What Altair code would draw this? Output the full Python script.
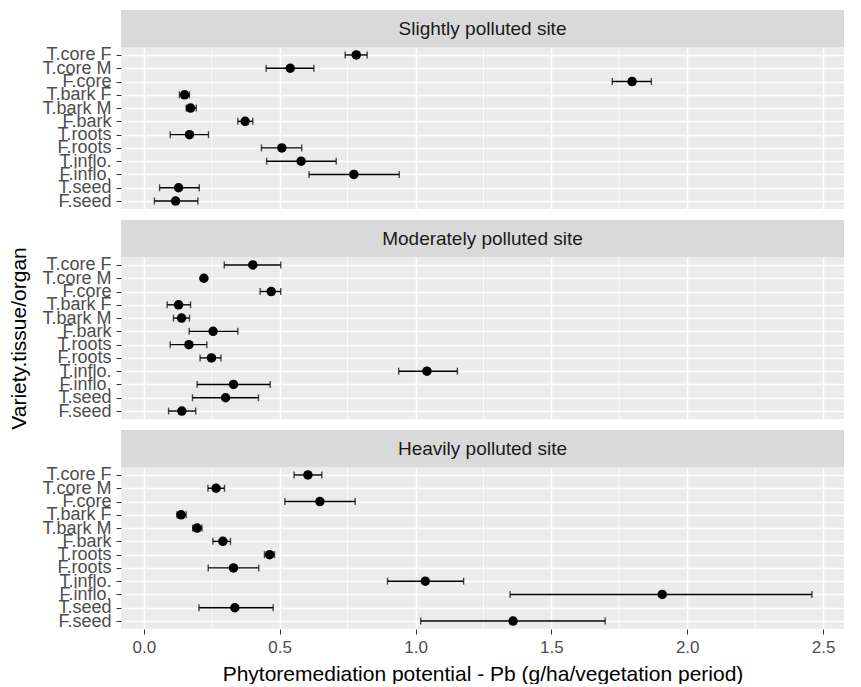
import altair as alt
import pandas as pd

categories = ["T.core F", "T.core M", "F.core", "T.bark F", "T.bark M", "F.bark",
              "T.roots", "F.roots", "T.inflo.", "F.inflo.", "T.seed", "F.seed"]
sites = ["Slightly polluted site", "Moderately polluted site", "Heavily polluted site"]

slight_mean = [0.782, 0.539, 1.797, 0.150, 0.172, 0.373, 0.168, 0.508, 0.579, 0.773, 0.128, 0.117]
slight_lo = [0.741, 0.450, 1.724, 0.131, 0.156, 0.346, 0.097, 0.433, 0.452, 0.608, 0.058, 0.039]
slight_hi = [0.822, 0.626, 1.868, 0.168, 0.193, 0.401, 0.238, 0.581, 0.708, 0.940, 0.204, 0.199]

moder_mean = [0.401, 0.221, 0.469, 0.128, 0.139, 0.255, 0.166, 0.249, 1.042, 0.330, 0.301, 0.140]
moder_lo = [0.296, 0.215, 0.428, 0.086, 0.109, 0.167, 0.097, 0.207, 0.938, 0.196, 0.179, 0.091]
moder_hi = [0.504, 0.227, 0.504, 0.172, 0.168, 0.346, 0.232, 0.284, 1.154, 0.465, 0.422, 0.191]

heavy_mean = [0.604, 0.266, 0.648, 0.137, 0.196, 0.291, 0.463, 0.330, 1.036, 1.908, 0.335, 1.359]
heavy_lo = [0.553, 0.236, 0.519, 0.122, 0.180, 0.254, 0.444, 0.237, 0.897, 1.348, 0.203, 1.019]
heavy_hi = [0.655, 0.297, 0.778, 0.156, 0.214, 0.319, 0.481, 0.423, 1.177, 2.459, 0.476, 1.698]

x_ticks = [0.0, 0.5, 1.0, 1.5, 2.0, 2.5]
x_minor = [0.25, 0.75, 1.25, 1.75, 2.25]

FONT = "Liberation Sans"
W = 723
PH = 162
SH = 37
GAP = 11


def panel(site, mean, lo, hi, bottom, show_ytitle):
    df = pd.DataFrame({"cat": categories, "mean": mean, "lo": lo, "hi": hi})
    sdf = pd.DataFrame({"site": [site]})
    xscale = alt.Scale(domain=[-0.084, 2.577], nice=False, zero=False)
    yscale = alt.Scale(type="point", padding=0.6, domain=categories)
    if bottom:
        xaxis = alt.Axis(values=x_ticks, format=".1f", grid=True, gridColor="white",
                         gridWidth=1.5, domain=False, ticks=True, tickColor="#333333",
                         tickSize=5, labelFontSize=17, labelColor="#4d4d4d", labelFont=FONT,
                         labelPadding=5, title="Phytoremediation potential - Pb (g/ha/vegetation period)",
                         titleFontSize=21, titleFont=FONT, titleFontWeight="normal",
                         titleColor="black", titlePadding=8)
    else:
        xaxis = alt.Axis(values=x_ticks, grid=True, gridColor="white", gridWidth=1.5,
                         domain=False, ticks=False, labels=False, title=None)
    yaxis = alt.Axis(grid=True, gridColor="white", gridWidth=1.3, domain=False,
                     tickColor="#333333", tickSize=5, labelFontSize=18, labelColor="#4d4d4d",
                     labelFont=FONT, labelPadding=5, labelOverlap=False,
                     title="Variety.tissue/organ", titleFontSize=21, titleFont=FONT,
                     titleFontWeight="normal", titleColor="black", titlePadding=12,
                     titleOpacity=1 if show_ytitle else 0)
    base = alt.Chart(df)
    strip_rect = alt.Chart(sdf).mark_rect(color="#d9d9d9").encode(
        x=alt.value(0), x2=alt.value(W), y=alt.value(-SH), y2=alt.value(0))
    strip_txt = alt.Chart(sdf).mark_text(fontSize=19, color="#1a1a1a", font=FONT).encode(
        x=alt.value(W / 2), y=alt.value(-SH / 2), text="site:N")
    minor = alt.Chart(pd.DataFrame({"v": x_minor})).mark_rule(color="white", strokeWidth=0.8).encode(
        x=alt.X("v:Q", scale=xscale, axis=xaxis))
    bars = base.mark_rule(color="black", strokeWidth=1.4).encode(
        x=alt.X("lo:Q", scale=xscale, axis=xaxis),
        x2="hi:Q",
        y=alt.Y("cat:N", scale=yscale, axis=yaxis, sort=categories))
    cap_lo = base.mark_tick(orient="vertical", size=7, thickness=1.4, color="black").encode(
        x=alt.X("lo:Q", scale=xscale), y=alt.Y("cat:N", scale=yscale, sort=categories))
    cap_hi = base.mark_tick(orient="vertical", size=7, thickness=1.4, color="black").encode(
        x=alt.X("hi:Q", scale=xscale), y=alt.Y("cat:N", scale=yscale, sort=categories))
    pts = base.mark_point(filled=True, size=90, color="black", opacity=1).encode(
        x=alt.X("mean:Q", scale=xscale), y=alt.Y("cat:N", scale=yscale, sort=categories))
    return alt.layer(minor, bars, cap_lo, cap_hi, pts, strip_rect, strip_txt).properties(
        width=W, height=PH)


p1 = panel(sites[0], slight_mean, slight_lo, slight_hi, False, False)
p2 = panel(sites[1], moder_mean, moder_lo, moder_hi, False, True)
p3 = panel(sites[2], heavy_mean, heavy_lo, heavy_hi, True, False)

chart = alt.vconcat(p1, p2, p3, spacing=SH + GAP, bounds="flush").properties(
    padding={"left": 0, "top": 2, "right": 5, "bottom": 0},
    background="white",
).configure_view(fill="#ebebeb", strokeWidth=0)

chart.save("out.html", embed_options={"renderer": "svg", "actions": False})
